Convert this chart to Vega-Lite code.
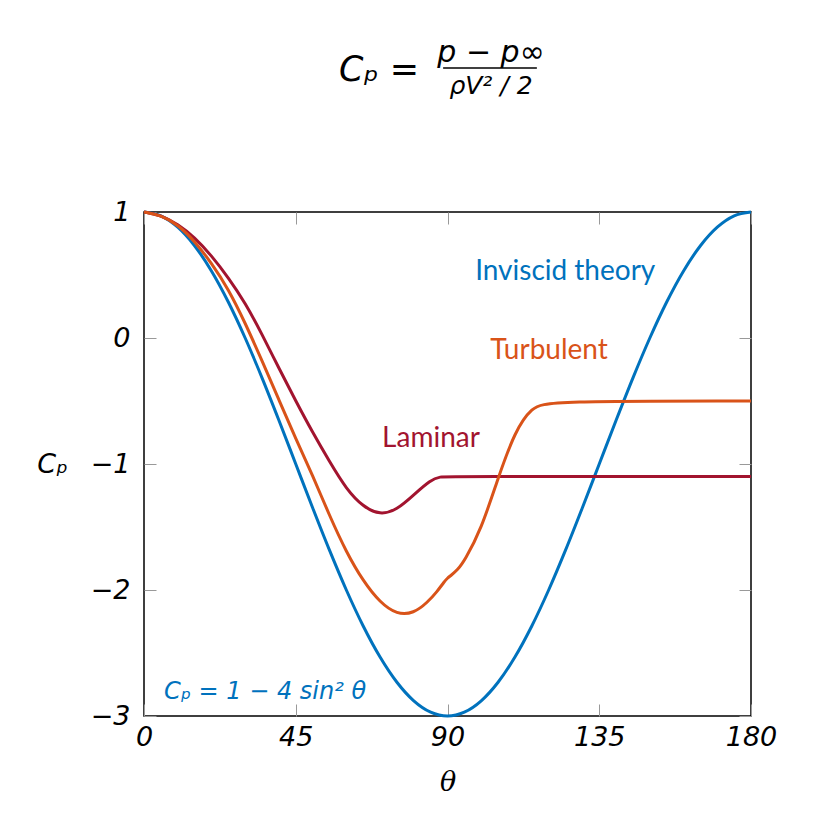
{
  "$schema": "https://vega.github.io/schema/vega-lite/v6.json",
  "width": 607,
  "height": 504,
  "autosize": {"type": "none"},
  "padding": {"left": 144, "top": 212, "right": 63, "bottom": 109},
  "background": "white",
  "config": {
    "view": {"stroke": "black", "strokeWidth": 1.5},
    "axis": {
      "grid": false,
      "domain": false,
      "tickColor": "#999999",
      "tickSize": -12,
      "tickWidth": 1,
      "labelFlush": false,
      "labelOverlap": false,
      "labelFont": "DejaVu Sans",
      "labelFontStyle": "italic",
      "labelFontSize": 27,
      "labelColor": "black",
      "titleFont": "DejaVu Sans",
      "titleFontStyle": "italic",
      "titleFontWeight": "normal",
      "titleFontSize": 27,
      "titleColor": "black"
    }
  },
  "datasets": {
    "inviscid": [
      {"theta": 0, "cp": 1, "series": "Inviscid"},
      {"theta": 5, "cp": 0.9696, "series": "Inviscid"},
      {"theta": 10, "cp": 0.8794, "series": "Inviscid"},
      {"theta": 15, "cp": 0.7321, "series": "Inviscid"},
      {"theta": 20, "cp": 0.5321, "series": "Inviscid"},
      {"theta": 25, "cp": 0.2856, "series": "Inviscid"},
      {"theta": 30, "cp": 0, "series": "Inviscid"},
      {"theta": 35, "cp": -0.316, "series": "Inviscid"},
      {"theta": 40, "cp": -0.6527, "series": "Inviscid"},
      {"theta": 45, "cp": -1, "series": "Inviscid"},
      {"theta": 50, "cp": -1.3473, "series": "Inviscid"},
      {"theta": 55, "cp": -1.684, "series": "Inviscid"},
      {"theta": 60, "cp": -2, "series": "Inviscid"},
      {"theta": 65, "cp": -2.2856, "series": "Inviscid"},
      {"theta": 70, "cp": -2.5321, "series": "Inviscid"},
      {"theta": 75, "cp": -2.7321, "series": "Inviscid"},
      {"theta": 80, "cp": -2.8794, "series": "Inviscid"},
      {"theta": 85, "cp": -2.9696, "series": "Inviscid"},
      {"theta": 90, "cp": -3, "series": "Inviscid"},
      {"theta": 95, "cp": -2.9696, "series": "Inviscid"},
      {"theta": 100, "cp": -2.8794, "series": "Inviscid"},
      {"theta": 105, "cp": -2.7321, "series": "Inviscid"},
      {"theta": 110, "cp": -2.5321, "series": "Inviscid"},
      {"theta": 115, "cp": -2.2856, "series": "Inviscid"},
      {"theta": 120, "cp": -2, "series": "Inviscid"},
      {"theta": 125, "cp": -1.684, "series": "Inviscid"},
      {"theta": 130, "cp": -1.3473, "series": "Inviscid"},
      {"theta": 135, "cp": -1, "series": "Inviscid"},
      {"theta": 140, "cp": -0.6527, "series": "Inviscid"},
      {"theta": 145, "cp": -0.316, "series": "Inviscid"},
      {"theta": 150, "cp": 0, "series": "Inviscid"},
      {"theta": 155, "cp": 0.2856, "series": "Inviscid"},
      {"theta": 160, "cp": 0.5321, "series": "Inviscid"},
      {"theta": 165, "cp": 0.7321, "series": "Inviscid"},
      {"theta": 170, "cp": 0.8794, "series": "Inviscid"},
      {"theta": 175, "cp": 0.9696, "series": "Inviscid"},
      {"theta": 180, "cp": 1, "series": "Inviscid"}
    ],
    "measured": [
      {"theta": 0, "cp": 1, "series": "Laminar"},
      {"theta": 5, "cp": 0.975, "series": "Laminar"},
      {"theta": 10, "cp": 0.905, "series": "Laminar"},
      {"theta": 15, "cp": 0.8, "series": "Laminar"},
      {"theta": 20, "cp": 0.655, "series": "Laminar"},
      {"theta": 25, "cp": 0.48, "series": "Laminar"},
      {"theta": 30, "cp": 0.28, "series": "Laminar"},
      {"theta": 35, "cp": 0.03, "series": "Laminar"},
      {"theta": 40, "cp": -0.24, "series": "Laminar"},
      {"theta": 45, "cp": -0.5, "series": "Laminar"},
      {"theta": 50, "cp": -0.75, "series": "Laminar"},
      {"theta": 55, "cp": -0.98, "series": "Laminar"},
      {"theta": 60, "cp": -1.2, "series": "Laminar"},
      {"theta": 65, "cp": -1.34, "series": "Laminar"},
      {"theta": 70, "cp": -1.405, "series": "Laminar"},
      {"theta": 75, "cp": -1.365, "series": "Laminar"},
      {"theta": 80, "cp": -1.245, "series": "Laminar"},
      {"theta": 85, "cp": -1.125, "series": "Laminar"},
      {"theta": 88, "cp": -1.1, "series": "Laminar"},
      {"theta": 90, "cp": -1.1, "series": "Laminar"},
      {"theta": 180, "cp": -1.1, "series": "Laminar"},
      {"theta": 0, "cp": 1, "series": "Turbulent"},
      {"theta": 5, "cp": 0.975, "series": "Turbulent"},
      {"theta": 10, "cp": 0.9, "series": "Turbulent"},
      {"theta": 15, "cp": 0.77, "series": "Turbulent"},
      {"theta": 20, "cp": 0.595, "series": "Turbulent"},
      {"theta": 25, "cp": 0.39, "series": "Turbulent"},
      {"theta": 30, "cp": 0.12, "series": "Turbulent"},
      {"theta": 35, "cp": -0.18, "series": "Turbulent"},
      {"theta": 40, "cp": -0.49, "series": "Turbulent"},
      {"theta": 45, "cp": -0.8, "series": "Turbulent"},
      {"theta": 50, "cp": -1.09, "series": "Turbulent"},
      {"theta": 55, "cp": -1.41, "series": "Turbulent"},
      {"theta": 60, "cp": -1.7, "series": "Turbulent"},
      {"theta": 65, "cp": -1.93, "series": "Turbulent"},
      {"theta": 70, "cp": -2.1, "series": "Turbulent"},
      {"theta": 75, "cp": -2.195, "series": "Turbulent"},
      {"theta": 80, "cp": -2.185, "series": "Turbulent"},
      {"theta": 84, "cp": -2.1, "series": "Turbulent"},
      {"theta": 87, "cp": -2.01, "series": "Turbulent"},
      {"theta": 89, "cp": -1.935, "series": "Turbulent"},
      {"theta": 90, "cp": -1.905, "series": "Turbulent"},
      {"theta": 91, "cp": -1.885, "series": "Turbulent"},
      {"theta": 93, "cp": -1.84, "series": "Turbulent"},
      {"theta": 95, "cp": -1.77, "series": "Turbulent"},
      {"theta": 100, "cp": -1.52, "series": "Turbulent"},
      {"theta": 105, "cp": -1.11, "series": "Turbulent"},
      {"theta": 110, "cp": -0.74, "series": "Turbulent"},
      {"theta": 115, "cp": -0.55, "series": "Turbulent"},
      {"theta": 120, "cp": -0.5, "series": "Turbulent"},
      {"theta": 180, "cp": -0.5, "series": "Turbulent"}
    ],
    "labels": [
      {"text": "Inviscid theory", "theta": 124.9, "cp": 0.52, "series": "Inviscid"},
      {"text": "Turbulent", "theta": 120.1, "cp": -0.1, "series": "Turbulent"},
      {"text": "Laminar", "theta": 85.1, "cp": -0.8, "series": "Laminar"}
    ],
    "formula": [
      {"text": "Cₚ = 1 − 4 sin² θ", "theta": 5.9, "cp": -2.81, "series": "Inviscid"}
    ],
    "titleText": [
      {"text": "Cₚ =", "theta": 69.7, "cp": 2.127, "size": "big"},
      {"text": "p − p∞", "theta": 102.9, "cp": 2.26, "size": "num"},
      {"text": "ρV² / 2", "theta": 102.9, "cp": 2.0, "size": "den"}
    ],
    "titleBar": [
      {"theta": 88.7, "theta2": 116.5, "cp": 2.143}
    ]
  },
  "resolve": {"axis": {"x": "independent", "y": "independent"}},
  "layer": [
    {
      "data": {"name": "inviscid"},
      "mark": {"type": "line", "strokeWidth": 3, "interpolate": "monotone"},
      "encoding": {
        "x": {"field": "theta", "type": "quantitative",
              "scale": {"domain": [0, 180], "nice": false, "zero": false},
              "axis": {"values": [0, 45, 90, 135, 180], "title": "θ", "labelPadding": 20, "titlePadding": 19, "titleFont": "DejaVu Serif"}},
        "y": {"field": "cp", "type": "quantitative",
              "scale": {"domain": [-3, 1], "nice": false, "zero": false},
              "axis": {"values": [-3, -2, -1, 0, 1], "title": "Cₚ", "titleAngle": 0, "titleAlign": "center", "titleBaseline": "middle", "titleX": -92, "titleY": 252, "labelPadding": 26}},
        "color": {"field": "series", "type": "nominal",
                  "scale": {"domain": ["Inviscid", "Turbulent", "Laminar"], "range": ["#0072BD", "#D95319", "#A2142F"]},
                  "legend": null}
      }
    },
    {
      "data": {"name": "measured"},
      "mark": {"type": "line", "strokeWidth": 3, "interpolate": "basis"},
      "encoding": {
        "x": {"field": "theta", "type": "quantitative", "scale": {"domain": [0, 180], "nice": false, "zero": false}, "axis": null},
        "y": {"field": "cp", "type": "quantitative", "scale": {"domain": [-3, 1], "nice": false, "zero": false}, "axis": null},
        "color": {"field": "series", "type": "nominal",
                  "scale": {"domain": ["Inviscid", "Turbulent", "Laminar"], "range": ["#0072BD", "#D95319", "#A2142F"]},
                  "legend": null}
      }
    },
    {
      "data": {"name": "labels"},
      "mark": {"type": "text", "font": "Lato", "fontSize": 28, "align": "center", "baseline": "middle"},
      "encoding": {
        "x": {"field": "theta", "type": "quantitative",
              "scale": {"domain": [0, 180], "nice": false, "zero": false},
              "axis": {"orient": "top", "values": [0, 45, 90, 135, 180], "labels": false, "title": null}},
        "y": {"field": "cp", "type": "quantitative",
              "scale": {"domain": [-3, 1], "nice": false, "zero": false},
              "axis": {"orient": "right", "values": [-3, -2, -1, 0, 1], "labels": false, "title": null}},
        "text": {"field": "text"},
        "color": {"field": "series", "type": "nominal",
                  "scale": {"domain": ["Inviscid", "Turbulent", "Laminar"], "range": ["#0072BD", "#D95319", "#A2142F"]},
                  "legend": null}
      }
    },
    {
      "data": {"name": "formula"},
      "mark": {"type": "text", "font": "DejaVu Sans", "fontStyle": "italic", "fontSize": 24, "align": "left", "baseline": "middle"},
      "encoding": {
        "x": {"field": "theta", "type": "quantitative", "scale": {"domain": [0, 180], "nice": false, "zero": false}, "axis": null},
        "y": {"field": "cp", "type": "quantitative", "scale": {"domain": [-3, 1], "nice": false, "zero": false}, "axis": null},
        "text": {"field": "text"},
        "color": {"field": "series", "type": "nominal",
                  "scale": {"domain": ["Inviscid", "Turbulent", "Laminar"], "range": ["#0072BD", "#D95319", "#A2142F"]},
                  "legend": null}
      }
    },
    {
      "data": {"name": "titleText"},
      "mark": {"type": "text", "font": "DejaVu Sans", "fontStyle": "italic", "align": "center", "baseline": "middle", "color": "black"},
      "encoding": {
        "x": {"field": "theta", "type": "quantitative", "scale": {"domain": [0, 180], "nice": false, "zero": false}, "axis": null},
        "y": {"field": "cp", "type": "quantitative", "scale": {"domain": [-3, 1], "nice": false, "zero": false}, "axis": null},
        "text": {"field": "text"},
        "size": {"field": "size", "type": "nominal", "scale": {"domain": ["big", "num", "den"], "range": [35, 25, 28]}, "legend": null}
      }
    },
    {
      "data": {"name": "titleBar"},
      "mark": {"type": "rule", "color": "black", "strokeWidth": 1.5},
      "encoding": {
        "x": {"field": "theta", "type": "quantitative", "scale": {"domain": [0, 180], "nice": false, "zero": false}, "axis": null},
        "x2": {"field": "theta2"},
        "y": {"field": "cp", "type": "quantitative", "scale": {"domain": [-3, 1], "nice": false, "zero": false}, "axis": null}
      }
    }
  ]
}
